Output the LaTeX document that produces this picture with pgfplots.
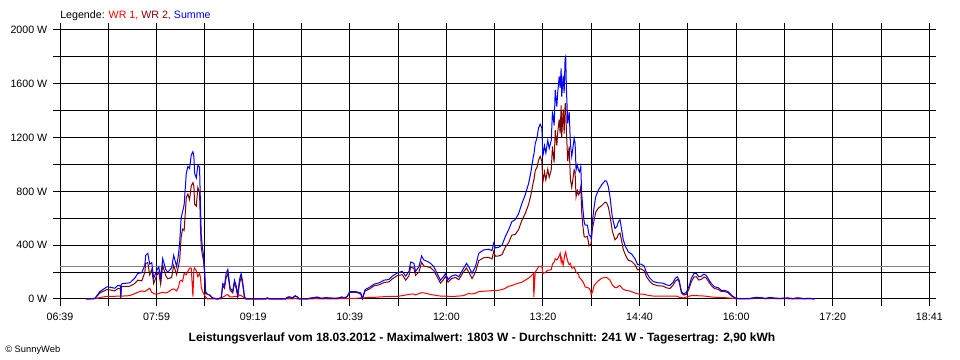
\documentclass[border=0pt]{standalone}
\usepackage{pgfplots}
\usepackage{pgfplotstable}
\pgfplotsset{compat=1.18}
\usepackage{fontspec}
\setmainfont{Liberation Sans}
\definecolor{wrone}{RGB}{255,0,0}
\definecolor{wrtwo}{RGB}{128,0,0}
\definecolor{summe}{RGB}{0,0,255}
\definecolor{avg}{RGB}{128,128,128}
\pgfplotstableread{
t wra wrb sum
21.5 0 0 0
29.0 2 3 5
33.1 10 45 55
37.3 17 63 80
38.9 20 70 90
41.4 20 68 88
45.5 20 60 80
48.0 22 78 100
50.1 22 78 100
50.5 22 0 22
50.9 22 88 110
52.2 22 93 115
58.0 25 95 120
62.1 40 115 155
64.6 50 140 190
67.9 60 135 195
70.4 55 195 250
71.2 60 265 325
72.9 70 270 340
74.5 80 180 260
76.2 50 220 270
77.8 40 115 155
80.3 35 175 210
82.0 40 200 240
83.6 45 110 155
85.3 50 250 300
87.8 45 175 220
89.4 50 150 200
92.7 70 160 230
94.4 75 250 325
96.9 60 180 240
98.5 90 250 340
99.4 130 290 420
100.6 140 460 600
101.8 130 520 650
103.1 190 510 700
104.9 180 755 935
106.2 205 780 985
107.6 230 740 970
109.0 230 840 1070
110.4 17 865 1095
111.2 220 840 1060
111.8 230 705 935
113.2 210 690 900
114.5 165 830 995
115.9 190 790 980
116.7 160 525 685
117.3 90 385 475
118.2 60 330 390
119.2 40 285 325
120.1 30 185 215
120.9 15 40 55
122.5 0 35 35
124.2 0 30 30
126.7 0 8 8
130.8 0 0 0
133.9 0 10 10
135.2 15 100 115
136.6 20 80 100
138.0 30 160 190
139.4 32 188 220
140.2 25 135 160
141.3 15 65 80
143.5 15 45 60
144.9 20 120 140
146.3 20 80 100
147.6 15 15 30
149.0 30 110 140
150.4 25 165 190
151.3 20 130 150
152.4 15 65 80
153.2 5 12 17
154.6 0 0 0
170.6 0 0 0
172.2 0 8 8
173.9 0 0 0
187.1 0 0 0
188.8 0 12 12
190.4 3 14 17
192.9 0 8 8
195.4 5 20 25
197.1 0 15 15
198.7 0 0 0
205.3 0 0 0
207.0 0 5 5
213.6 3 12 15
216.9 0 5 5
221.1 2 8 10
227.7 0 5 5
231.8 2 6 8
233.5 3 12 15
236.8 2 8 10
238.5 3 17 20
240.7 5 50 55
245.7 5 50 55
249.8 8 37 45
251.1 5 0 5
253.4 10 60 70
256.7 12 73 85
260.8 12 98 110
265.0 15 105 120
269.1 17 123 140
273.2 18 127 145
276.0 20 150 170
280.4 20 175 195
284.3 25 180 205
287.1 30 140 170
289.8 33 172 205
291.2 37 238 275
293.9 37 228 265
295.3 30 175 205
298.1 40 200 240
300.3 47 273 320
302.2 45 245 290
305.0 40 240 280
307.8 33 232 265
310.5 30 210 240
313.2 25 165 190
316.0 22 118 140
318.0 22 138 160
320.2 22 168 190
322.3 20 125 145
325.2 18 152 170
328.5 20 160 180
331.2 22 143 165
335.3 25 205 230
337.6 35 230 265
339.5 40 200 240
342.2 38 152 190
345.0 42 198 240
347.8 55 285 340
351.9 58 307 365
356.0 60 310 370
358.8 62 298 360
360.2 62 353 415
361.6 62 318 380
364.3 65 320 385
367.1 70 330 400
369.9 80 385 465
372.6 95 420 515
375.3 100 475 575
378.1 110 480 590
380.9 118 517 635
383.6 125 585 710
386.4 140 635 775
389.2 155 705 860
391.1 170 775 945
393.3 190 880 1070
393.5 15 880 1070
394.7 200 955 1155
396.2 220 980 1200
397.4 240 1030 1270
398.8 240 1060 1300
400.2 245 1025 1270
401.0 190 870 1060
402.4 195 945 1140
403.5 200 885 1085
405.1 215 965 1180
406.3 215 905 1120
408.0 218 962 1180
409.0 260 1135 1395
410.4 275 1015 1290
411.3 300 1255 1555
412.6 290 1140 1430
413.4 300 1240 1540
414.6 320 1335 1655
415.4 340 1230 1570
416.2 275 1440 1715
416.7 300 1205 1505
417.9 250 1410 1660
418.7 300 1230 1530
419.5 340 1450 1790
420.0 350 1453 1803
420.6 320 1240 1560
421.7 280 1025 1305
422.9 255 1135 1390
423.9 265 890 1155
425.0 230 830 1060
425.8 230 880 1110
427.0 235 960 1195
427.8 220 940 1160
428.6 200 760 960
429.7 190 805 995
430.6 185 775 960
431.4 160 785 945
432.5 150 835 985
433.3 140 645 785
434.1 130 555 685
435.3 110 465 575
436.1 90 460 550
438.0 85 465 550
439.4 80 395 475
440.7 60 405 465
441.1 35 415 450
442.2 50 525 575
443.6 100 585 685
444.9 115 645 760
447.1 135 675 810
449.9 155 695 850
452.7 160 720 880
454.0 160 715 875
455.4 150 685 835
456.8 140 620 760
458.7 105 505 610
460.9 85 440 525
462.6 85 455 540
463.7 95 480 575
465.1 100 490 590
466.4 85 435 520
467.8 72 368 440
469.7 65 325 390
472.0 62 288 350
474.7 55 280 335
477.5 45 255 300
479.7 38 217 255
482.5 36 224 260
485.2 35 210 245
487.1 30 165 195
489.9 25 130 155
492.7 22 108 130
496.8 22 98 120
500.9 22 96 118
503.7 22 83 105
506.5 22 78 100
509.2 22 103 125
511.1 22 133 155
512.8 20 145 165
514.2 12 128 140
516.1 10 45 55
518.1 8 29 37
520.2 15 35 50
522.2 20 70 90
524.4 25 130 155
526.6 26 164 190
528.5 25 165 190
530.5 24 141 165
532.7 23 147 170
534.9 22 163 185
536.8 20 155 175
538.8 18 127 145
540.9 15 100 115
543.7 13 77 90
546.5 12 73 85
549.2 10 55 65
552.0 10 55 65
554.8 8 47 55
557.5 6 24 30
560.3 3 7 10
562.5 2 3 5
567.2 1 2 3
573.0 2 3 5
577.9 8 4 12
582.1 5 5 10
586.2 3 2 5
589.5 8 4 12
592.8 5 3 8
597.8 2 3 5
604.4 2 6 8
608.6 0 3 3
612.7 0 8 8
617.7 0 3 3
622.7 0 5 5
626.8 0 0 0
}\data
\begin{document}
\begin{tikzpicture}
\path[use as bounding box] (-45pt,-45.75pt) rectangle (675pt,224.25pt);
\begin{axis}[
  at={(0,0)}, anchor=south west,
  scale only axis, width=652pt, height=201.75pt,
  xmin=0, xmax=722, ymin=0, ymax=2000,
  axis line style={black, line width=0.75pt},
  xtick={0,40.11,80.22,120.33,160.44,200.56,240.67,280.78,320.89,361.00,401.11,441.22,481.33,521.44,561.56,601.67,641.78,681.89,722},
  xticklabels={06:39,,07:59,,09:19,,10:39,,12:00,,13:20,,14:40,,16:00,,17:20,,18:41},
  ytick={0,200,...,2000},
  yticklabels={0 W,,400 W,,800 W,,1200 W,,1600 W,,2000 W},
  tick align=outside,
  major tick length=5pt,
  tick style={black, line width=0.75pt},
  grid=major,
  major grid style={black, line width=0.75pt},
  ticklabel style={font=\fontsize{8}{9}\selectfont},
  xticklabel style={yshift=-2pt},
  yticklabel style={xshift=-1pt},
  clip=false,
]
\addplot[avg, line width=0.75pt, forget plot] coordinates {(0,241) (722,241)};
\addplot[wrone, line width=0.75pt] table[x=t, y=wra] {\data};
\addplot[wrtwo, line width=0.75pt] table[x=t, y=wrb] {\data};
\addplot[summe, line width=0.75pt] table[x=t, y=sum] {\data};
\end{axis}
\node[anchor=west, inner sep=0pt, font=\fontsize{8}{9}\selectfont] at (0pt,212.25pt)
  {Legende: \textcolor{wrone}{WR 1,} \textcolor{wrtwo}{WR 2,} \textcolor{summe}{Summe}};
\node[inner sep=0pt, font=\bfseries\fontsize{9}{10}\selectfont] at (316.5pt,-29.25pt)
  {Leistungsverlauf vom 18.03.2012 - Maximalwert: 1803 W - Durchschnitt: 241 W - Tagesertrag: 2,90 kWh};
\node[anchor=west, inner sep=0pt, font=\fontsize{7}{8}\selectfont] at (-41.25pt,-38.25pt)
  {\textcopyright{} SunnyWeb};
\end{tikzpicture}
\end{document}
